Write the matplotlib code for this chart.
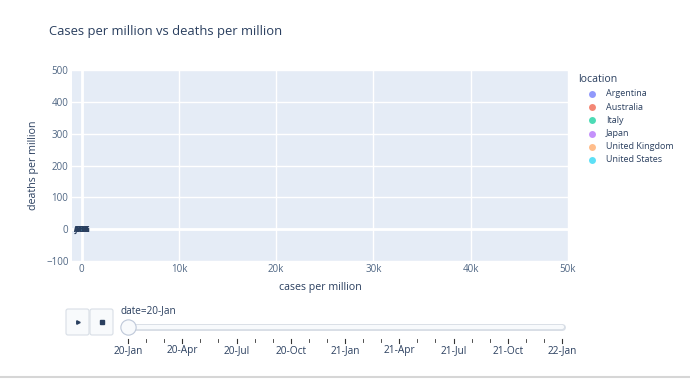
import matplotlib
matplotlib.use("Agg")
import matplotlib.pyplot as plt
from matplotlib.patches import FancyBboxPatch
from matplotlib.ticker import FuncFormatter

plt.rcParams["font.family"] = ["Open Sans", "DejaVu Sans"]

# data shown in the first animation frame (date = 20-Jan)
locations = ["Argentina", "Australia", "Italy", "Japan", "United Kingdom", "United States"]
iso_codes = ["ARG", "AUS", "ITA", "JPN", "GBR", "USA"]
cases_per_million = [0, 0, 0, 0, 0, 0]
deaths_per_million = [0, 0, 0, 0, 0, 0]
colors = ["#636EFA", "#EF553B", "#00CC96", "#AB63FA", "#FFA15A", "#19D3F3"]

# slider steps: monthly frames
slider_months = ["20-Jan", "20-Feb", "20-Mar", "20-Apr", "20-May", "20-Jun", "20-Jul",
                 "20-Aug", "20-Sep", "20-Oct", "20-Nov", "20-Dec", "21-Jan", "21-Feb",
                 "21-Mar", "21-Apr", "21-May", "21-Jun", "21-Jul", "21-Aug", "21-Sep",
                 "21-Oct", "21-Nov", "21-Dec", "22-Jan"]
slider_labels = ["20-Jan", "20-Apr", "20-Jul", "20-Oct", "21-Jan", "21-Apr", "21-Jul", "21-Oct", "22-Jan"]
current_frame = "20-Jan"

x_ticks = [0, 10000, 20000, 30000, 40000, 50000]
y_ticks = [-100, 0, 100, 200, 300, 400, 500]

W, H = 690, 388
fig = plt.figure(figsize=(W / 100, H / 100), dpi=100)
fig.patch.set_facecolor("white")

FG = "#2a3f5f"
TICK = "#506784"

# ── main scatter axes ──
ax = fig.add_axes([72 / W, 1 - 261 / H, (568 - 72) / W, (261 - 70) / H])
ax.set_facecolor("#E5ECF6")
ax.set_xlim(-1000, 50000)
ax.set_ylim(-100, 500)
ax.set_xticks(x_ticks)
ax.set_yticks(y_ticks)
ax.xaxis.set_major_formatter(FuncFormatter(lambda v, p: "0" if v == 0 else f"{int(v/1000)}k"))
ax.yaxis.set_major_formatter(FuncFormatter(lambda v, p: f"\u2212{int(-v)}" if v < 0 else f"{int(v)}"))
ax.grid(True, color="white", lw=1)
ax.set_axisbelow(True)
ax.axvline(0, color="white", lw=2, zorder=1)
ax.axhline(0, color="white", lw=2, zorder=1)
for s in ax.spines.values():
    s.set_visible(False)
ax.tick_params(length=0, labelsize=7.0, colors=TICK, pad=2.5)
ax.set_xlabel("cases per million", fontsize=7.7, color=FG, labelpad=5)
ax.set_ylabel("deaths per million", fontsize=7.7, color=FG, labelpad=5)

for loc, code, x, y, c in zip(locations, iso_codes, cases_per_million, deaths_per_million, colors):
    ax.scatter([x], [y], s=16, color=c, alpha=0.7, edgecolors="none", zorder=3)
    ax.text(x, y, code, fontsize=5.5, color=FG, ha="center", va="center", zorder=4,
            fontweight="bold")

fig.text(49 / W, 1 - 31 / H, "Cases per million vs deaths per million",
         fontsize=9.4, color=FG, va="center", ha="left")

# ── decoration overlay (pixel coordinates) ──
deco = fig.add_axes([0, 0, 1, 1], zorder=-1)
deco.set_xlim(0, W)
deco.set_ylim(H, 0)
deco.axis("off")

# legend
deco.text(578, 79, "location", fontsize=7.6, color=FG, ha="left", va="center")
for i, (loc, c) in enumerate(zip(locations, colors)):
    yy = 94 + 13.2 * i
    deco.plot([592], [yy], marker="o", ms=5, color=c, alpha=0.7, mec="none")
    deco.text(606, yy, loc, fontsize=6.5, color=FG, ha="left", va="center")

# play / stop buttons
for x0 in (66, 90):
    deco.add_patch(FancyBboxPatch((x0, 309), 23, 26, boxstyle="round,pad=0,rounding_size=2",
                                  fc="#F8FAFC", ec="#D8DEE6", lw=0.8))
deco.plot([77.5], [322], marker=">", ms=2.5, color=FG)
deco.plot([101.5], [322], marker="s", ms=3.5, color=FG)
deco.plot([0, W], [377, 377], color="#D6D6D6", lw=1.5)

# ── slider axes ──
sax = fig.add_axes([128 / W, 1 - 362 / H, 434 / W, 62 / H])
sax.set_xlim(0, len(slider_months) - 1)
sax.set_ylim(362, 300)
sax.axis("off")
idx = list(range(len(slider_months)))
sax.plot([idx[0], idx[-1]], [327, 327], color="#D8DEE6", lw=5, solid_capstyle="round", clip_on=False)
sax.plot([idx[0], idx[-1]], [327, 327], color="#F8FAFC", lw=3, solid_capstyle="round", clip_on=False)
for i, m in zip(idx, slider_months):
    major = m in slider_labels
    sax.plot([i, i], [339, 343 if major else 341.5], color="#333333", lw=0.8 if major else 0.6,
             clip_on=False)
    if major:
        sax.text(i, 351, m, fontsize=7.3, color=FG, ha="center", va="center")
cur = slider_months.index(current_frame)
sax.plot([cur], [327], marker="o", ms=11, mfc="#F8FAFC", mec="#BEC8D9", mew=0.8, clip_on=False,
         zorder=5)
sax.text(cur - 0.4, 311, f"date={current_frame}", fontsize=7.2, color=FG, ha="left", va="center")

fig.savefig("out.png", dpi=100)
